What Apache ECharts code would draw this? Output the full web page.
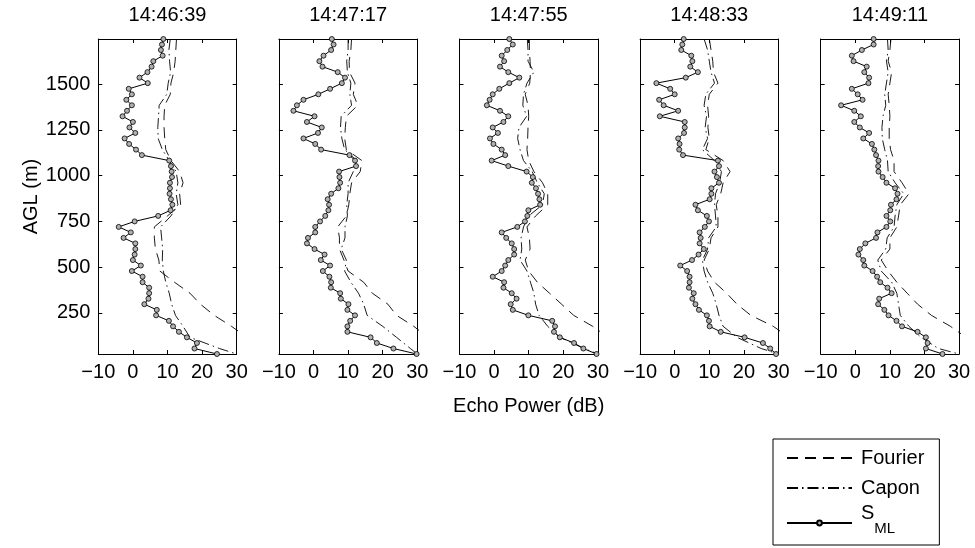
<!DOCTYPE html>
<html><head><meta charset="utf-8">
<script src="https://cdn.jsdelivr.net/npm/echarts@6/dist/echarts.min.js"></script>
<style>html,body{margin:0;padding:0;background:#fff}#c{width:975px;height:548px}</style>
</head><body><div id="c"></div>
<script>
const times = ['14:46:39', '14:47:17', '14:47:55', '14:48:33', '14:49:11'];
const xTicks = [-10, 0, 10, 20, 30];
const yTicks = [250, 500, 750, 1000, 1250, 1500];
const seriesNames = ['Fourier', 'Capon', 'S_ML'];

// range gates (m), top to bottom
const heights = [1746, 1716, 1686, 1655, 1625, 1595, 1565, 1535, 1505, 1474, 1444, 1414, 1384, 1354, 1324, 1293, 1263, 1233, 1203, 1173, 1142, 1112, 1082, 1052, 1022, 992, 961, 931, 901, 871, 841, 811, 780, 750, 720, 690, 660, 630, 599, 569, 539, 509, 479, 448, 418, 388, 358, 328, 298, 267, 237, 207, 177, 147, 117, 86, 56, 26];
const heightsCoarse = [1746, 1686, 1625, 1565, 1505, 1444, 1384, 1324, 1263, 1203, 1142, 1082, 1022, 961, 901, 841, 780, 720, 660, 599, 539, 479, 418, 358, 298, 237, 177, 117, 56, 26];

// S_ML echo power (dB)
const sml1 = [8.8, 8.4, 8.1, 8.6, 5.9, 5.4, 4.2, 1.9, 4.3, -1.2, -0.3, -1.9, -0.3, -1.7, -3.0, 0.0, -1.0, 0.7, -2.4, -1.1, 0.9, 2.6, 10.5, 11.0, 11.2, 11.3, 10.7, 10.7, 10.6, 11.0, 11.4, 10.9, 7.3, 0.5, -4.1, -0.6, -2.7, 0.7, 0.7, 0.5, 0.0, 2.3, -0.3, 2.8, 2.8, 4.7, 4.7, 4.5, 3.3, 6.9, 6.7, 10.4, 11.6, 13.3, 15.6, 18.5, 17.8, 24.3];
const sml2 = [5.3, 5.8, 5.1, 2.9, 1.7, 2.6, 7.0, 9.1, 8.2, 4.8, 1.4, -2.9, -4.8, -5.8, 0.3, -1.9, 2.4, 1.3, -2.9, 0.5, 2.2, 10.4, 12.0, 12.3, 7.4, 7.5, 7.7, 7.2, 5.1, 4.1, 4.5, 4.3, 3.4, 1.9, 0.5, 0.5, -1.6, -1.9, 0.3, 3.2, 2.1, 4.8, 2.7, 4.6, 5.1, 5.0, 7.7, 7.9, 10.1, 9.8, 12.0, 10.6, 9.8, 9.8, 16.5, 18.3, 23.1, 29.8];
const sml3 = [4.4, 5.4, 3.8, 2.2, 2.9, 1.7, 4.1, 7.3, 4.4, 1.5, -0.4, -1.3, -2.1, 1.7, 4.1, 2.7, -0.4, 1.1, -1.2, -0.2, 2.2, 3.2, -0.7, 4.1, 9.4, 11.2, 10.9, 12.1, 12.7, 13.1, 13.3, 9.9, 9.6, 8.9, 6.7, 2.2, 3.5, 5.1, 5.8, 5.8, 4.1, 3.2, 2.2, -0.4, 2.9, 2.7, 5.1, 6.5, 4.8, 5.4, 9.9, 16.8, 17.6, 17.3, 19.0, 23.1, 25.8, 29.6];
const sml4 = [2.6, 2.2, 1.9, 4.8, 5.1, 4.5, 6.7, 3.2, -5.3, -1.3, 0.0, -4.5, -3.2, 1.0, -4.3, 2.9, 2.9, 2.7, 1.0, 1.4, 1.3, 2.4, 12.5, 12.8, 11.5, 12.2, 12.8, 10.6, 10.6, 10.1, 6.0, 6.7, 9.3, 9.9, 8.7, 7.2, 7.5, 7.2, 8.4, 6.9, 5.0, 1.6, 3.6, 4.3, 4.3, 4.1, 5.5, 5.1, 6.0, 7.0, 9.3, 9.9, 10.1, 13.3, 20.2, 25.5, 27.6, 29.3];
const sml5 = [5.3, 5.3, 1.9, -1.0, -0.5, 3.3, 2.6, 4.0, 3.8, -1.0, 0.7, 2.1, -4.1, -0.3, 1.6, -0.3, 1.3, 4.0, 2.3, 4.8, 5.5, 6.0, 6.7, 6.6, 6.7, 7.9, 9.0, 11.5, 12.2, 11.9, 10.3, 10.1, 9.0, 10.1, 9.0, 6.4, 6.0, 2.9, 1.3, 0.9, 2.3, 2.6, 5.0, 6.3, 7.2, 9.3, 10.5, 6.9, 6.6, 8.4, 9.6, 11.9, 13.5, 18.0, 20.4, 20.9, 20.4, 25.2];

// Fourier echo power (dB), at heightsCoarse
const fourier1 = [12.6, 12.4, 12.2, 11.8, 11.0, 10.8, 9.2, 9.0, 9.0, 9.2, 9.5, 11.0, 13.5, 14.5, 13.5, 13.8, 10.0, 6.2, 6.2, 6.5, 7.5, 7.8, 12.0, 16.5, 19.5, 23.5, 28.5, 33, 38, 40];
const fourier2 = [11, 10.8, 10.3, 10.4, 12.0, 11.5, 12.8, 9.5, 9.2, 9.0, 9.5, 14, 13.5, 11, 10.5, 10.2, 9.5, 7.0, 7.5, 7.5, 8.8, 10, 14.5, 17, 21.5, 24, 29, 33, 37, 40];
const fourier3 = [10.2, 10.2, 10.4, 10.5, 10.3, 9.0, 9.8, 10, 9.8, 9.7, 9.5, 10, 11.5, 14, 15.5, 15.5, 12, 9.5, 10.2, 10.4, 9, 10, 12.5, 16, 19.5, 23, 28.5, 33, 37, 40];
const fourier4 = [10, 10.5, 11, 11.2, 12.5, 10, 9.5, 9.8, 9.6, 10, 9, 14, 16, 14, 13.3, 12, 12.5, 12.5, 10.5, 10, 8.5, 9.5, 11.5, 15, 18, 22, 28.5, 33, 37, 40];
const fourier5 = [10.3, 10, 9.5, 10.5, 10, 9.5, 9.8, 10, 9.8, 9.8, 10.2, 11.2, 11.2, 13.5, 15.5, 13, 12.5, 12, 10, 10, 7.5, 9.5, 12, 15, 18, 22, 27.5, 32, 36, 40];

// Capon echo power (dB), at heightsCoarse
const capon1 = [10.8, 10.4, 10.6, 10.9, 10.2, 9.8, 7.6, 7.4, 7.2, 7.3, 8.5, 10.5, 12.5, 13.0, 12.5, 13.0, 11.0, 8.0, 8.3, 8.6, 8.5, 8.8, 9.5, 10.5, 11.2, 12.3, 14.5, 16.5, 25, 30];
const capon2 = [10, 10, 9.6, 9.8, 10.8, 10.5, 11, 8, 7.8, 8.2, 9.0, 12.5, 11.5, 10, 10, 9.6, 9.8, 9.1, 9.1, 8.0, 9.5, 9.0, 10.8, 13, 14.5, 15.5, 20, 24, 28, 30];
const capon3 = [9.6, 9.8, 9.8, 11.5, 9.5, 8.5, 8.3, 9.4, 7.2, 6.8, 7.5, 8.5, 11, 12.5, 14.5, 14, 10, 8.5, 7.8, 8.0, 7.5, 9.5, 10.5, 11.5, 12, 13, 15.5, 19, 26, 30];
const capon4 = [8.5, 9.5, 10, 10.5, 11.5, 9, 8.5, 9.2, 8.8, 9.5, 8, 11.5, 13.5, 13, 11.8, 11.5, 11.8, 12.0, 9.8, 9.5, 8, 8.5, 9.5, 11, 12, 12.8, 14, 18, 25, 30];
const capon5 = [9.3, 9.5, 9.0, 9.5, 9, 8.5, 8.8, 8.0, 7.7, 7.8, 8.5, 9.3, 9.5, 11.5, 14, 12, 11.5, 11.2, 9.2, 8.8, 6.5, 7.5, 10.5, 12, 12.5, 13, 15.5, 19, 24, 30];

const smlAll = [sml1, sml2, sml3, sml4, sml5];
const fourierAll = [fourier1, fourier2, fourier3, fourier4, fourier5];
const caponAll = [capon1, capon2, capon3, capon4, capon5];

const FONT = '"Liberation Sans", Arial, Helvetica, sans-serif';
const INK = '#000';
const pair = (xs, ys) => xs.map((v, i) => [v, ys[i]]);

const chart = echarts.init(document.getElementById('c'), null, { renderer: 'canvas' });
const L0 = 98.3, STEP = 180.6, W = 138.4, TOP = 39, H = 315;
const grids = [], xAxes = [], yAxes = [], series = [], titles = [];
const axisLine = { show: true, onZero: false, lineStyle: { color: INK, width: 1 } };
const labelStyle = { color: INK, fontSize: 20, fontFamily: FONT };

for (let i = 0; i < 5; i++) {
  const left = L0 + i * STEP;
  grids.push({ left: left, top: TOP, width: W, height: H, containLabel: false });
  titles.push({ text: times[i], left: left + W / 2, top: 5, textAlign: 'center', padding: 0,
    textStyle: { fontFamily: FONT, fontSize: 20, fontWeight: 'normal', color: INK } });
  xAxes.push({ gridIndex: i, type: 'value', min: xTicks[0], max: xTicks[xTicks.length - 1], interval: 10,
    position: 'bottom', axisLine: axisLine, splitLine: { show: false },
    axisTick: { inside: true, length: 4, lineStyle: { color: INK } },
    axisLabel: Object.assign({ margin: 8, showMinLabel: true, showMaxLabel: true, hideOverlap: false,
      formatter: v => String(v).replace('-', '\u2212') }, labelStyle),
    name: i === 2 ? 'Echo Power (dB)' : '', nameLocation: 'middle', nameGap: 42,
    nameTextStyle: labelStyle });
  xAxes.push({ gridIndex: i, type: 'value', min: xTicks[0], max: xTicks[xTicks.length - 1], interval: 10,
    position: 'top', axisLine: axisLine, splitLine: { show: false },
    axisTick: { inside: true, length: 4, lineStyle: { color: INK } }, axisLabel: { show: false } });
  yAxes.push({ gridIndex: i, type: 'value', min: 26, max: 1746, position: 'left',
    axisLine: axisLine, splitLine: { show: false },
    axisTick: { inside: true, length: 4, customValues: yTicks, lineStyle: { color: INK } },
    axisLabel: Object.assign({ show: i === 0, margin: 8, customValues: yTicks, formatter: v => String(v) }, labelStyle),
    name: i === 0 ? 'AGL (m)' : '', nameLocation: 'middle', nameRotate: 90, nameGap: 56,
    nameTextStyle: labelStyle });
  yAxes.push({ gridIndex: i, type: 'value', min: 26, max: 1746, position: 'right',
    axisLine: axisLine, splitLine: { show: false },
    axisTick: { inside: true, length: 4, customValues: yTicks, lineStyle: { color: INK } },
    axisLabel: { show: false } });

  series.push({ name: 'Fourier', type: 'line', xAxisIndex: 2 * i, yAxisIndex: 2 * i,
    data: pair(fourierAll[i], heightsCoarse), showSymbol: false, symbol: 'none', clip: true, silent: true,
    lineStyle: { color: INK, width: 0.9, type: [11, 7] }, itemStyle: { color: INK }, z: 2 });
  series.push({ name: 'Capon', type: 'line', xAxisIndex: 2 * i, yAxisIndex: 2 * i,
    data: pair(caponAll[i], heightsCoarse), showSymbol: false, symbol: 'none', clip: true, silent: true,
    lineStyle: { color: INK, width: 0.9, type: [11, 4, 1.5, 4] }, itemStyle: { color: INK }, z: 2 });
  series.push({ name: 'S_ML', type: 'line', xAxisIndex: 2 * i, yAxisIndex: 2 * i,
    data: pair(smlAll[i], heights), symbol: 'circle', symbolSize: 5, showSymbol: true, clip: true, silent: true,
    lineStyle: { color: INK, width: 1 },
    itemStyle: { color: '#b0b0b0', borderColor: INK, borderWidth: 0.8 }, z: 3 });
}

chart.setOption({
  backgroundColor: '#fff',
  animation: false,
  title: titles,
  grid: grids,
  xAxis: xAxes,
  yAxis: yAxes,
  series: series,
  legend: {
    data: [
      { name: 'Fourier', itemStyle: { opacity: 0 } },
      { name: 'Capon', itemStyle: { opacity: 0 } },
      { name: 'S_ML' }
    ],
    orient: 'vertical', left: 773, top: 439, height: 160,
    borderColor: INK, borderWidth: 1, padding: [4, 15, 2, 13],
    itemWidth: 65, itemHeight: 6, itemGap: 0, selectedMode: false,
    formatter: n => n === 'S_ML' ? '{s|S}{sub|ML}' : n,
    textStyle: { color: INK, fontSize: 20, fontFamily: FONT, lineHeight: 30, padding: [0, 0, 0, 4],
      rich: {
        s: { fontSize: 20, lineHeight: 20, fontFamily: FONT, color: INK, padding: [0, 0, 20, 0] },
        sub: { fontSize: 15, lineHeight: 15, fontFamily: FONT, color: INK, padding: [12, 0, 0, 0] }
      } }
  }
});
</script>
</body></html>
